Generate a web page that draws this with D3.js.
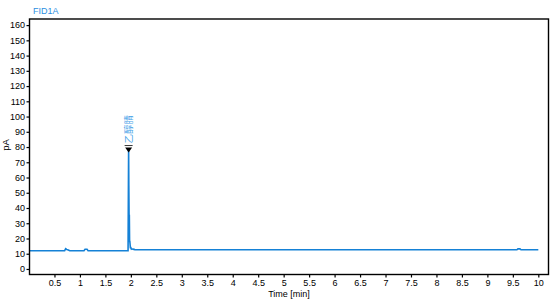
<!DOCTYPE html>
<html><head><meta charset="utf-8">
<script src="https://cdn.jsdelivr.net/npm/d3@7"></script>
<style>body{margin:0;background:#fff}svg{display:block}text{font-family:"Liberation Sans",Arial,sans-serif}</style>
</head><body><svg id="c" width="554" height="300"></svg>
<script>
const times  = [0, 0.70, 0.72, 0.74, 0.76, 0.80, 1.08, 1.10, 1.14, 1.16, 1.945, 1.952, 1.956, 1.960, 1.965, 1.970, 1.975, 1.980, 1.990, 2.000, 2.010, 2.020, 2.040, 2.080, 2.120, 9.58, 9.60, 9.64, 9.66, 10.0];
const signal = [12.0, 12.0, 13.3, 12.8, 12.6, 12.0, 12.0, 12.9, 12.9, 12.0, 12.0, 55, 79, 55, 35, 35, 18, 18, 14, 14, 13, 13.2, 13.0, 12.7, 12.6, 12.6, 13.2, 13.2, 12.6, 12.6];
const yTicks = d3.range(0, 161, 10);
const xTicks = d3.range(0.5, 10.01, 0.5);
const peakLabel = "乙醇腈";
const peakTime = 1.956, peakValue = 79;
const title = "FID1A", yLabel = "pA", xLabel = "Time [min]";

const svg = d3.select("#c");
const L = 29.5, R = 548.5, T = 19, B = 274.5;
const x = d3.scaleLinear().domain([0, 10.2]).range([29, 548.5]);
const y = d3.scaleLinear().domain([-3.5, 164]).range([274.3, 19]);

svg.append("text").attr("x", 33).attr("y", 14).attr("fill", "#2e8fdf").attr("font-size", 9).text(title);

const line = d3.line().x((d,i)=>x(times[i])).y(d=>y(d));
svg.append("path").datum(signal).attr("d", line).attr("fill","none").attr("stroke","#1581d6").attr("stroke-width",1.6);

const ya = svg.append("g").attr("transform",`translate(${L},0)`)
  .call(d3.axisLeft(y).tickValues(yTicks).tickSize(3).tickPadding(1.5).tickFormat(d3.format("d")));
const xa = svg.append("g").attr("transform",`translate(0,${B})`)
  .call(d3.axisBottom(x).tickValues(xTicks).tickSize(3).tickPadding(2).tickFormat(d=>String(d)));
[ya,xa].forEach(g=>{g.select(".domain").remove();g.selectAll("text").attr("font-size",9).attr("fill","#000").style("font-family","Liberation Sans, Arial, sans-serif");g.selectAll("line").attr("stroke","#000").attr("stroke-width",1.2);});

svg.append("rect").attr("x",L).attr("y",T).attr("width",R-L).attr("height",B-T).attr("fill","none").attr("stroke","#000").attr("stroke-width",1.4);

svg.append("text").attr("transform",`translate(9,145) rotate(-90)`).attr("text-anchor","middle").attr("font-size",9.5).text(yLabel);
svg.append("text").attr("x",289).attr("y",297).attr("text-anchor","middle").attr("font-size",9).text(xLabel);

// peak marker
const px = x(peakTime), py = y(peakValue);
svg.append("path").attr("d",`M${px-3.5},${py-1}L${px+3.5},${py-1}L${px},${py+4}Z`).attr("fill","#000");
svg.append("line").attr("x1",px-4).attr("x2",px+4).attr("y1",py-3).attr("y2",py-3).attr("stroke","#000").attr("stroke-width",0.8);
svg.append("text").attr("transform",`translate(${px+3.5},${py-5}) rotate(-90)`).attr("font-size",9.5).attr("fill","#4aa3e8").style("font-family","Noto Sans CJK SC").text(peakLabel);
</script></body></html>
